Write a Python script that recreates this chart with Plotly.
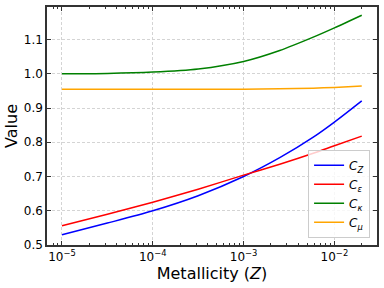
import plotly.graph_objects as go

Z = [1e-5, 3.16e-5, 1e-4, 3.16e-4, 1e-3, 2.5e-3, 5.85e-3, 1e-2, 2e-2]
C_Z = [0.530, 0.564, 0.600, 0.644, 0.700, 0.755, 0.815, 0.859, 0.921]
C_eps = [0.556, 0.590, 0.625, 0.663, 0.704, 0.736, 0.768, 0.790, 0.818]
C_kappa = [1.000, 1.001, 1.005, 1.014, 1.036, 1.068, 1.107, 1.134, 1.171]
C_mu = [0.955, 0.955, 0.955, 0.955, 0.955, 0.956, 0.958, 0.960, 0.964]

x_tickvals = [1e-5, 1e-4, 1e-3, 1e-2]
x_ticktext = ["10<sup>−5</sup>", "10<sup>−4</sup>", "10<sup>−3</sup>", "10<sup>−2</sup>"]
y_tickvals = [0.5, 0.6, 0.7, 0.8, 0.9, 1.0, 1.1]
y_ticktext = ["0.5", "0.6", "0.7", "0.8", "0.9", "1.0", "1.1"]

series = [
    ("<i>C</i><sub><i>Z</i></sub>", C_Z, "blue"),
    ("<i>C</i><sub><i>ε</i></sub>", C_eps, "red"),
    ("<i>C</i><sub><i>κ</i></sub>", C_kappa, "green"),
    ("<i>C</i><sub><i>μ</i></sub>", C_mu, "orange"),
]

minor_vals = [k * 10.0 ** e for e in range(-6, -1) for k in range(2, 10)]

fig = go.Figure()
for name, vals, col in series:
    fig.add_trace(go.Scatter(x=Z, y=vals, mode="lines", name=name,
                             line=dict(color=col, width=1.5, shape="spline", smoothing=0.8)))

font = "DejaVu Sans"
grid = dict(showgrid=True, gridcolor="#d4d4d4", griddash="3px,2px", gridwidth=0.8)
fig.update_layout(
    width=384, height=288,
    margin=dict(l=47, r=7, t=7, b=43, autoexpand=False),
    paper_bgcolor="white", plot_bgcolor="white",
    font=dict(family=font, size=12, color="black"),
    showlegend=True,
    legend=dict(x=0.979, y=0.03, xanchor="right", yanchor="bottom",
                bordercolor="#cccccc", borderwidth=1, bgcolor="rgba(255,255,255,0.8)",
                font=dict(size=12, family=font), itemwidth=30),
)
fig.update_xaxes(
    type="log", range=[-5.165, -1.531],
    tickmode="array", tickvals=x_tickvals, ticktext=x_ticktext,
    automargin=False,
    showline=True, linecolor="#333333", linewidth=1.5, mirror="ticks",
    ticks="inside", ticklen=4, tickcolor="#333333",
    minor=dict(ticks="inside", tickmode="array", tickvals=minor_vals, ticklen=2,
               tickcolor="#333333", showgrid=False),
    zeroline=False,
    title=dict(text="Metallicity (<i>Z</i>)", font=dict(size=16, family=font), standoff=2),
    **grid,
)
fig.update_yaxes(
    range=[0.5, 1.195], tickmode="array", tickvals=y_tickvals, ticktext=y_ticktext,
    automargin=False,
    showline=True, linecolor="#333333", linewidth=1.5, mirror="ticks",
    ticks="inside", ticklen=4, tickcolor="#333333",
    zeroline=False,
    title=dict(text="Value", font=dict(size=16, family=font), standoff=2),
    **grid,
)
fig.write_html("out.html", post_script="document.body.style.margin='0';",
               config={"displayModeBar": False})
